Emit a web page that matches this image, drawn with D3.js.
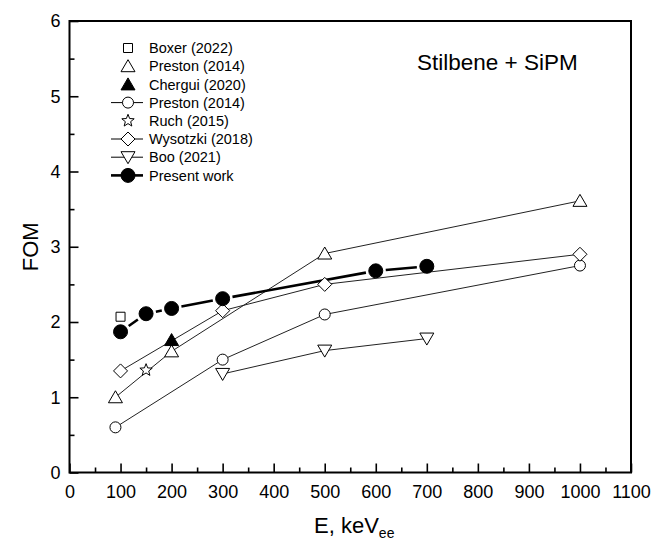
<!DOCTYPE html>
<html>
<head>
<meta charset="utf-8">
<script src="https://cdn.jsdelivr.net/npm/d3@7"></script>
<style>
  body { margin: 0; background: #fff; }
  svg { font-family: "Liberation Sans", Arial, sans-serif; }
</style>
</head>
<body>
<svg id="chart" width="652" height="542"></svg>
<script>
"use strict";

// data (E in keVee, FOM)
const boxerE = [100];
const boxerFOM = [2.07];
const prestonTriE = [90, 200, 500, 1000];
const prestonTriFOM = [1.0, 1.61, 2.91, 3.61];
const cherguiE = [200];
const cherguiFOM = [1.76];
const prestonCircE = [90, 300, 500, 1000];
const prestonCircFOM = [0.6, 1.5, 2.1, 2.75];
const ruchE = [150];
const ruchFOM = [1.36];
const wysotzkiE = [100, 300, 500, 1000];
const wysotzkiFOM = [1.35, 2.15, 2.5, 2.9];
const booE = [300, 500, 700];
const booFOM = [1.31, 1.62, 1.78];
const presentE = [100, 150, 200, 300, 600, 700];
const presentFOM = [1.87, 2.11, 2.18, 2.31, 2.68, 2.74];

const xTicks = [0, 100, 200, 300, 400, 500, 600, 700, 800, 900, 1000, 1100];
const yTicks = [0, 1, 2, 3, 4, 5, 6];

// series table built from the arrays above
const series = [
    { name: "Boxer (2022)", e: boxerE, v: boxerFOM, shape: "square", line: false },
    { name: "Preston (2014)", e: prestonTriE, v: prestonTriFOM, shape: "triUp", line: true, legendLine: false },
    { name: "Chergui (2020)", e: cherguiE, v: cherguiFOM, shape: "triUp", filled: true, line: false },
    { name: "Preston (2014)", e: prestonCircE, v: prestonCircFOM, shape: "circle", line: true, legendLine: true },
    { name: "Ruch (2015)", e: ruchE, v: ruchFOM, shape: "star", line: false },
    { name: "Wysotzki (2018)", e: wysotzkiE, v: wysotzkiFOM, shape: "diamond", line: true, legendLine: true },
    { name: "Boo (2021)", e: booE, v: booFOM, shape: "triDown", line: true, legendLine: true },
    { name: "Present work", e: presentE, v: presentFOM, shape: "bigCircle", filled: true, line: true, legendLine: true, thick: true }
];

const svg = d3.select("#chart");

const plotL = 69.5, plotR = 631, plotT = 21, plotB = 472.5;
const x = d3.scaleLinear().domain([0, 1100]).range([plotL, plotR]);
const y = d3.scaleLinear().domain([0, 6]).range([plotB, plotT]);

// marker outlines
function shapePath(shape) {
    const p = d3.path();
    if (shape === "square") {
        p.rect(-4.5, -4.5, 9, 9);
    } else if (shape === "triUp") {
        p.moveTo(0, -6.5); p.lineTo(7, 5.5); p.lineTo(-7, 5.5); p.closePath();
    } else if (shape === "triDown") {
        p.moveTo(0, 6.5); p.lineTo(7, -5.5); p.lineTo(-7, -5.5); p.closePath();
    } else if (shape === "circle") {
        p.arc(0, 0, 5.5, 0, 2 * Math.PI);
    } else if (shape === "bigCircle") {
        p.arc(0, 0, 7, 0, 2 * Math.PI);
    } else if (shape === "diamond") {
        p.moveTo(0, -7); p.lineTo(7, 0); p.lineTo(0, 7); p.lineTo(-7, 0); p.closePath();
    } else if (shape === "star") {
        for (let i = 0; i < 10; i++) {
            const r = i % 2 === 0 ? 6.5 : 2.8;
            const a = -Math.PI / 2 + i * Math.PI / 5;
            if (i === 0) p.moveTo(r * Math.cos(a), r * Math.sin(a));
            else p.lineTo(r * Math.cos(a), r * Math.sin(a));
        }
        p.closePath();
    }
    return p.toString();
}

// axes: ticks point inward
svg.append("g").attr("transform", `translate(0,${plotB})`)
    .call(d3.axisBottom(x).tickValues(xTicks).tickFormat(d3.format("d")).tickSize(-9).tickPadding(13));
svg.append("g").attr("transform", `translate(0,${plotB})`)
    .call(d3.axisBottom(x).tickValues(d3.range(50, 1100, 100)).tickSize(-5).tickFormat(""));
svg.append("g").attr("transform", `translate(${plotL},0)`)
    .call(d3.axisLeft(y).tickValues(yTicks).tickFormat(d3.format("d")).tickSize(-9).tickPadding(9));
svg.append("g").attr("transform", `translate(${plotL},0)`)
    .call(d3.axisLeft(y).tickValues(d3.range(0.5, 6, 1)).tickSize(-5).tickFormat(""));

svg.selectAll(".domain").remove();
svg.selectAll(".tick line").attr("stroke", "#000").attr("stroke-width", 1.6);
svg.selectAll(".tick text").attr("font-size", 18).attr("fill", "#000")
    .attr("font-family", "Liberation Sans, Arial, sans-serif");

// frame
svg.append("rect")
    .attr("x", plotL).attr("y", plotT)
    .attr("width", plotR - plotL).attr("height", plotB - plotT)
    .attr("fill", "none").attr("stroke", "#000").attr("stroke-width", 2);

// axis titles
svg.append("text")
    .attr("transform", `translate(38,${(plotT + plotB) / 2}) rotate(-90)`)
    .attr("text-anchor", "middle")
    .attr("font-size", 22)
    .text("FOM");

const xt = svg.append("text")
    .attr("x", (plotL + plotR) / 2 + 4).attr("y", 533)
    .attr("text-anchor", "middle")
    .attr("font-size", 22);
xt.append("tspan").text("E, keV");
xt.append("tspan").attr("font-size", 14).attr("dy", 5).text("ee");

svg.append("text")
    .attr("x", 417).attr("y", 70)
    .attr("font-size", 22.5)
    .text("Stilbene + SiPM");

// connecting lines
const plot = svg.append("g");
series.filter(s => s.line).forEach(s => {
    const pts = s.e.map((e, i) => [x(e), y(s.v[i])]);
    if (s.thick) {
        // gap in front of each filled marker, as in the source
        for (let i = 0; i < pts.length - 1; i++) {
            const [x0, y0] = pts[i], [x1, y1] = pts[i + 1];
            const d = Math.hypot(x1 - x0, y1 - y0), g = 10;
            const ux = (x1 - x0) / d, uy = (y1 - y0) / d;
            plot.append("line")
                .attr("x1", x0 + ux * g).attr("y1", y0 + uy * g)
                .attr("x2", x1 - ux * g).attr("y2", y1 - uy * g)
                .attr("stroke", "#000").attr("stroke-width", 2.6);
        }
    } else {
        plot.append("path")
            .attr("d", d3.line()(pts))
            .attr("fill", "none").attr("stroke", "#222").attr("stroke-width", 1);
    }
});

// markers
series.forEach(s => {
    plot.selectAll(null)
        .data(s.e.map((e, i) => [e, s.v[i]]))
        .join("path")
        .attr("transform", d => `translate(${x(d[0])},${y(d[1])})`)
        .attr("d", shapePath(s.shape))
        .attr("fill", s.filled ? "#000" : "#fff")
        .attr("stroke", "#000").attr("stroke-width", 1);
});

// legend
const lg = svg.append("g").attr("transform", "translate(128,48)");
series.forEach((s, i) => {
    const row = lg.append("g").attr("transform", `translate(0,${i * 18.2})`);
    if (s.legendLine) {
        row.append("line").attr("x1", -17).attr("x2", 15)
            .attr("stroke", "#000").attr("stroke-width", s.thick ? 2.6 : 1);
    }
    row.append("path").attr("d", shapePath(s.shape))
        .attr("fill", s.filled ? "#000" : "#fff")
        .attr("stroke", "#000").attr("stroke-width", 1);
    row.append("text").attr("x", 21).attr("y", 5.2)
        .attr("font-size", 14.5).text(s.name);
});
</script>
</body>
</html>
